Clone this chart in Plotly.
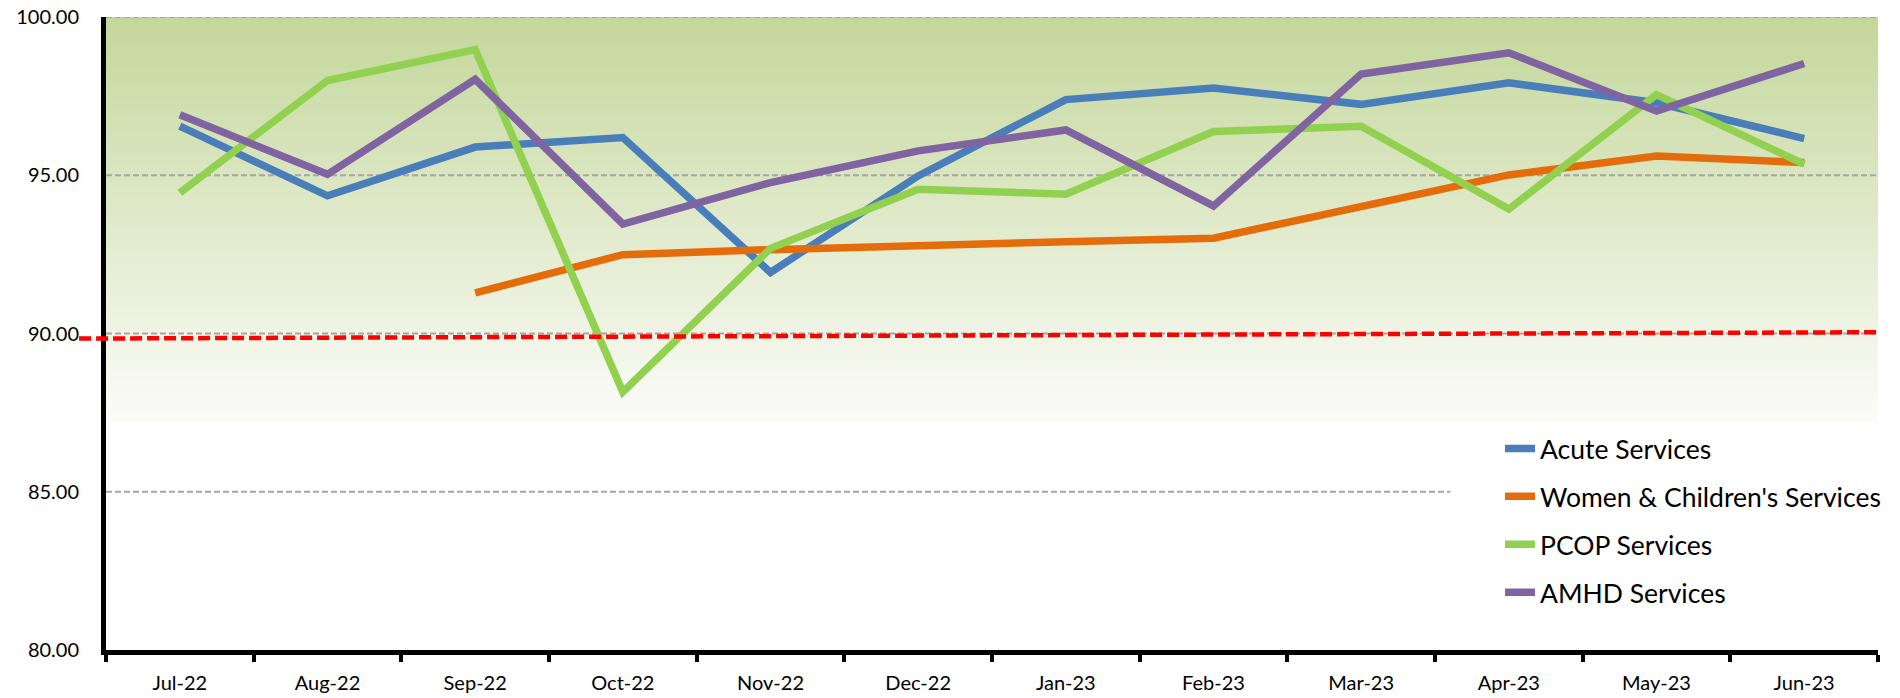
import plotly.graph_objects as go

months = ["Jul-22", "Aug-22", "Sep-22", "Oct-22", "Nov-22", "Dec-22",
          "Jan-23", "Feb-23", "Mar-23", "Apr-23", "May-23", "Jun-23"]

acute = [96.55, 94.35, 95.89, 96.19, 91.93, 94.98, 97.39, 97.76, 97.24, 97.92, 97.29, 96.16]
women_children = [None, None, 91.28, 92.49, 92.65, 92.79, 92.90, 93.01, 94.03, 95.01, 95.61, 95.40]
pcop = [94.45, 97.99, 98.97, 88.15, 92.69, 94.56, 94.40, 96.38, 96.55, 93.93, 97.55, 95.35]
amhd = [96.91, 95.03, 98.03, 93.46, 94.77, 95.77, 96.43, 94.03, 98.20, 98.87, 97.03, 98.53]

series_names = ["Acute Services", "Women & Children's Services", "PCOP Services", "AMHD Services"]
series_values = [acute, women_children, pcop, amhd]
series_colors = ["#4A7EBB", "#E46C0A", "#92D050", "#8064A2"]

target_line = [89.84, 90.04]   # red dashed target line, left and right end values
y_ticks = [80, 85, 90, 95, 100]

# gradient band (styling): top colour at 100 fading to near-white at 87.2
grad_top, grad_bottom = 100.0, 87.2
top_rgb = (196, 215, 155)
bottom_rgb = (252, 252, 249)

fig = go.Figure()

for i, (name, vals, col) in enumerate(zip(series_names, series_values, series_colors)):
    fig.add_trace(go.Scatter(
        x=months, y=vals, name=name, mode="lines",
        line=dict(color=col, width=7.5), legendgroup=f"g{i}",
        connectgaps=False,
    ))

shapes = []
n = 128
step = (grad_top - grad_bottom) / n
for k in range(n):
    y0 = grad_bottom + step * k
    y1 = min(grad_top, y0 + step * 1.8)
    f = (k + 0.5) / n
    r = round(bottom_rgb[0] + (top_rgb[0] - bottom_rgb[0]) * f)
    g = round(bottom_rgb[1] + (top_rgb[1] - bottom_rgb[1]) * f)
    b = round(bottom_rgb[2] + (top_rgb[2] - bottom_rgb[2]) * f)
    shapes.append(dict(type="rect", xref="paper", yref="y", x0=0, x1=1, y0=y0, y1=y1,
                       fillcolor=f"rgb({r},{g},{b})", line=dict(width=0), layer="below"))

# dashed horizontal gridlines (the 85 one stops where the legend box begins)
for yv in y_ticks[1:]:
    shapes.append(dict(type="line", xref="paper", yref="y", x0=0, x1=(0.7587 if yv == 85 else 1.0),
                       y0=yv, y1=yv, line=dict(color="#A6A6A6", width=2, dash="6px,3px"),
                       layer="below"))

# red dashed target line extending slightly left of the axis
shapes.append(dict(type="line", xref="paper", yref="y", x0=-0.0152, x1=1.0,
                   y0=target_line[0], y1=target_line[1],
                   line=dict(color="#FF0000", width=4.5, dash="12px,5px"), layer="above"))

fig.update_layout(
    width=1900, height=698,
    margin=dict(l=106, r=22, t=17, b=48, autoexpand=False),
    paper_bgcolor="white", plot_bgcolor="white",
    font=dict(family="Lato, 'Open Sans', sans-serif", color="#000000", size=20),
    shapes=shapes,
    showlegend=True,
    legend=dict(
        x=0.7867, xanchor="left", y=0.356, yanchor="top",
        bgcolor="rgba(0,0,0,0)", borderwidth=0,
        font=dict(size=26.5, color="#000000"),
        tracegroupgap=10.5, itemwidth=30,
    ),
    xaxis=dict(
        type="category", categoryorder="array", categoryarray=months,
        tickson="boundaries", ticks="outside", ticklen=7, tickwidth=4, tickcolor="black",
        showline=True, linewidth=5, linecolor="black", showgrid=False, zeroline=False,
        tickfont=dict(size=20), range=[-0.5, 11.5], ticklabelstandoff=11,
    ),
    yaxis=dict(
        range=[80, 100], tickvals=y_ticks, tickformat=".2f",
        showline=True, linewidth=5, linecolor="black", ticks="",
        showgrid=False, zeroline=False, tickfont=dict(size=20), ticklabelstandoff=18,
    ),
)

fig.write_html("out.html", config={"displayModeBar": False},
               post_script="document.body.style.margin='0';document.body.style.padding='0';")
